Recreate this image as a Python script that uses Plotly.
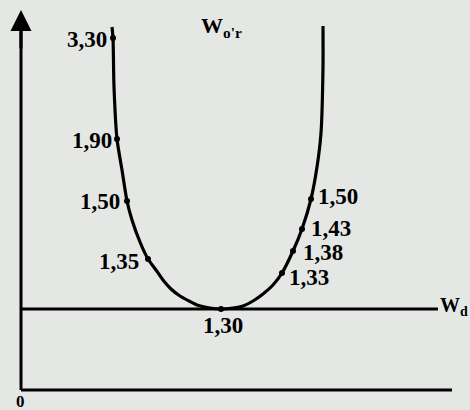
import plotly.graph_objects as go

# U-shaped curve W_o'r (schematic units)
curve_x = [91, 92, 93, 96, 101, 106, 111, 119, 127, 135, 142, 150, 159, 168, 176, 189, 200, 212, 222, 232, 242, 252, 261, 272, 281, 290, 296, 300, 302, 302]
curve_y = [363, 352, 303, 251, 220, 189, 170, 148, 131, 120, 110, 101, 94, 89, 85, 82, 81, 82, 84, 89, 96, 105, 117, 139, 161, 191, 223, 257, 323, 364]

# labelled points on the curve
point_x = [92, 96, 106, 127, 200, 261, 272, 281, 290]
point_y = [352, 251, 189, 131, 81, 117, 139, 161, 191]
point_labels = ["3,30", "1,90", "1,50", "1,35", "1,30", "1,33", "1,38", "1,43", "1,50"]

# horizontal line W_d
wd_level = 81
wd_x = [0, 417]
# axes extents
xaxis_end = 431
yaxis_end = 380

# label placement (anchor, xshift, yshift)
label_pos = [
    ("right", -4, -1), ("right", -3, -1), ("right", -5, 0), ("right", -7, -2),
    ("center", 2, -16), ("left", 5, -4), ("left", 8, -1), ("left", 7, 1), ("left", 5, 3),
]

FONT = "Liberation Serif"
fig = go.Figure()

# bottom axis
fig.add_trace(go.Scatter(x=[0, xaxis_end], y=[0, 0], mode="lines",
                         line=dict(color="black", width=3), hoverinfo="skip"))
# vertical axis
fig.add_trace(go.Scatter(x=[0, 0], y=[0, yaxis_end - 12], mode="lines",
                         line=dict(color="black", width=3), hoverinfo="skip"))
# W_d line
fig.add_trace(go.Scatter(x=wd_x, y=[wd_level, wd_level], mode="lines",
                         line=dict(color="black", width=3), hoverinfo="skip"))
# curve
fig.add_trace(go.Scatter(x=curve_x, y=curve_y, mode="lines",
                         line=dict(color="black", width=3.2, shape="spline", smoothing=0.7),
                         hoverinfo="skip"))
# points
fig.add_trace(go.Scatter(x=point_x, y=point_y, mode="markers",
                         marker=dict(color="black", size=6), hoverinfo="skip"))

annotations = []
# arrow head of the vertical axis
annotations.append(dict(x=0, y=yaxis_end, ax=0, ay=yaxis_end - 40, xref="x", yref="y",
                        axref="x", ayref="y",
                        showarrow=True, arrowhead=2, arrowsize=1.4, arrowwidth=3,
                        arrowcolor="black", text=""))
for px_, py_, lab, (anc, xs, ys) in zip(point_x, point_y, point_labels, label_pos):
    annotations.append(dict(x=px_, y=py_, xref="x", yref="y", text=f"<b>{lab}</b>",
                            showarrow=False, xanchor=anc, yanchor="middle",
                            xshift=xs, yshift=ys,
                            font=dict(family=FONT, size=23, color="black")))
annotations.append(dict(x=0, y=0, xref="x", yref="y", text="<b>0</b>", showarrow=False,
                        xanchor="center", yanchor="top", xshift=-1, yshift=0,
                        font=dict(family=FONT, size=17, color="black")))
annotations.append(dict(x=wd_x[1], y=wd_level, xref="x", yref="y",
                        text="<b>W<sub>d</sub></b>", showarrow=False,
                        xanchor="left", yanchor="middle", xshift=0, yshift=3,
                        font=dict(family=FONT, size=20, color="black")))
annotations.append(dict(x=200, y=363, xref="x", yref="y",
                        text="<b>W<sub>o'r</sub></b>", showarrow=False,
                        xanchor="center", yanchor="middle",
                        font=dict(family=FONT, size=22, color="black")))

fig.update_layout(
    width=470, height=410,
    margin=dict(l=0, r=0, t=0, b=0),
    paper_bgcolor="#e5e7e4", plot_bgcolor="#e5e7e4",
    showlegend=False,
    xaxis=dict(range=[-21, 449], visible=False, fixedrange=True),
    yaxis=dict(range=[-20, 390], visible=False, fixedrange=True),
    annotations=annotations,
)

fig.write_html("out.html", config={"displayModeBar": False},
               post_script="document.body.style.margin='0';document.body.style.background='#e5e7e4';")
